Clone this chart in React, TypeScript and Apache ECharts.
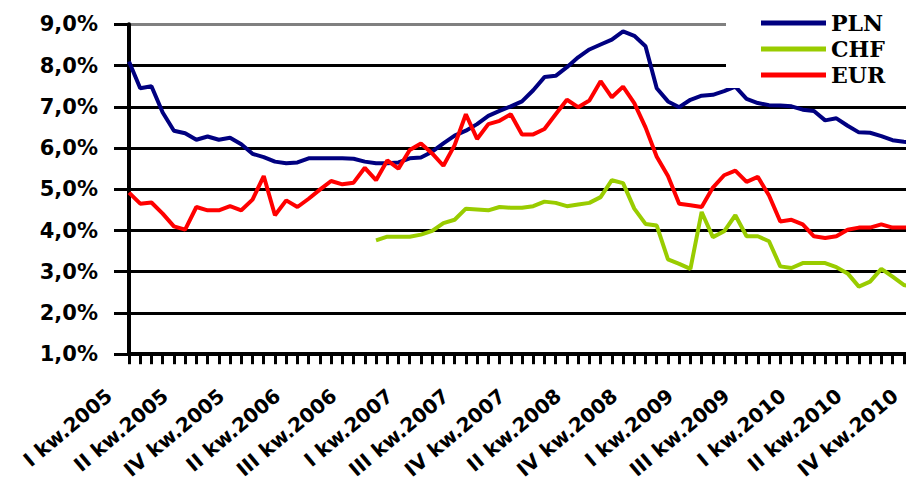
import React, { useEffect, useRef } from "react";
import * as echarts from "echarts";

// Monthly categories, Jan 2005 .. Nov 2010 (labels shown every 5th month)
const YEARS = [2005, 2006, 2007, 2008, 2009, 2010];
const QUARTERS = ["I", "II", "III", "IV"];
const MONTHS_SHOWN = 71;
const categories: string[] = [];
YEARS.forEach((y) => {
  for (let m = 0; m < 12; m++) {
    if (categories.length < MONTHS_SHOWN) categories.push(`${QUARTERS[Math.floor(m / 3)]} kw.${y}`);
  }
});

const pln = [
  8.1, 7.45, 7.5, 6.86, 6.42, 6.36, 6.2, 6.28, 6.2, 6.25,
  6.09, 5.86, 5.78, 5.67, 5.63, 5.65, 5.75, 5.75, 5.75, 5.75,
  5.74, 5.67, 5.63, 5.63, 5.65, 5.75, 5.77, 5.91, 6.11, 6.3,
  6.42, 6.58, 6.78, 6.9, 7.01, 7.13, 7.4, 7.72, 7.75, 7.96,
  8.2, 8.39, 8.51, 8.63, 8.83, 8.72, 8.47, 7.45, 7.13, 6.99,
  7.17, 7.27, 7.29, 7.38, 7.49, 7.19, 7.09, 7.04, 7.03, 7.01,
  6.93, 6.9, 6.67, 6.72, 6.54, 6.38, 6.37, 6.29, 6.19, 6.15,
  6.12,
];

const chf = [
  null, null, null, null, null, null, null, null, null, null,
  null, null, null, null, null, null, null, null, null, null,
  null, null, 3.76, 3.85, 3.85, 3.85, 3.9, 3.99, 4.18, 4.26,
  4.53, 4.51, 4.49, 4.57, 4.55, 4.55, 4.59, 4.7, 4.67, 4.59,
  4.63, 4.67, 4.81, 5.22, 5.15, 4.53, 4.16, 4.12, 3.3, 3.19,
  3.07, 4.45, 3.84, 3.98, 4.37, 3.86, 3.86, 3.74, 3.13, 3.09,
  3.21, 3.21, 3.21, 3.11, 2.96, 2.64, 2.76, 3.07, 2.88, 2.68,
  2.62,
];

const eur = [
  4.92, 4.65, 4.68, 4.41, 4.1, 4.02, 4.57, 4.49, 4.49, 4.59,
  4.49, 4.75, 5.32, 4.37, 4.73, 4.57, 4.77, 4.99, 5.2, 5.12,
  5.16, 5.52, 5.22, 5.7, 5.5, 5.95, 6.11, 5.87, 5.57, 6.07,
  6.82, 6.22, 6.58, 6.66, 6.82, 6.33, 6.33, 6.46, 6.82, 7.17,
  6.99, 7.15, 7.62, 7.23, 7.49, 7.09, 6.5, 5.79, 5.32, 4.65,
  4.61, 4.57, 5.04, 5.34, 5.45, 5.18, 5.3, 4.85, 4.22, 4.26,
  4.15, 3.86, 3.82, 3.86, 4.02, 4.07, 4.07, 4.15, 4.07, 4.07,
  4.07,
];

const Y_MIN = 1;
const Y_MAX = 9;
const Y_STEP = 1;

const SERIES_NAMES = ["PLN", "CHF", "EUR"];
const SERIES_COLORS = ["#000080", "#99CC00", "#FF0000"];

export default function App() {
  const ref = useRef<HTMLDivElement>(null);
  useEffect(() => {
    if (!ref.current) return;
    const chart = echarts.init(ref.current, null, { renderer: "svg" });
    const labelFont = "DejaVu Sans";
    const splitColors = ["#000", "#000", "#000", "#000", "#000", "#000", "#000", "#000", "#808080"];
    const datasets = [pln, chf, eur];
    chart.setOption({
      animation: false,
      backgroundColor: "#fff",
      grid: { left: 129, right: 5, top: 24.3, bottom: 119.3, containLabel: false },
      legend: {
        orient: "vertical",
        left: 726,
        top: 0,
        padding: [10, 30, 0, 35],
        backgroundColor: "#fff",
        itemGap: 0,
        itemWidth: 65,
        itemHeight: 5,
        icon: "rect",
        data: SERIES_NAMES,
        textStyle: {
          fontFamily: "DejaVu Serif",
          fontWeight: "bold",
          fontSize: 22,
          color: "#000",
          lineHeight: 26,
        },
      },
      xAxis: {
        type: "category",
        boundaryGap: false,
        data: categories,
        axisLine: { show: true, lineStyle: { color: "#000", width: 4 } },
        axisTick: { show: true, interval: 0, length: 10, lineStyle: { color: "#000", width: 3 } },
        axisLabel: {
          interval: 4,
          rotate: 40,
          margin: 22,
          padding: [0, 26, 0, 0],
          fontFamily: labelFont,
          fontWeight: "bold",
          fontSize: 20,
          color: "#000",
        },
        splitLine: { show: false },
      },
      yAxis: {
        type: "value",
        min: Y_MIN,
        max: Y_MAX,
        interval: Y_STEP,
        axisLine: { show: true, lineStyle: { color: "#000", width: 4 } },
        axisTick: { show: true, length: 15, lineStyle: { color: "#000", width: 3 } },
        axisLabel: {
          margin: 31,
          fontFamily: labelFont,
          fontWeight: "bold",
          fontSize: 21,
          color: "#000",
          formatter: (v: number) => v.toFixed(1).replace(".", ",") + "%",
        },
        splitLine: { show: true, lineStyle: { color: splitColors, width: 3 } },
      },
      series: SERIES_NAMES.map((name, i) => ({
        name,
        type: "line",
        data: datasets[i],
        showSymbol: false,
        symbol: "none",
        connectNulls: false,
        color: SERIES_COLORS[i],
        lineStyle: { color: SERIES_COLORS[i], width: 4 },
        z: 3,
      })),
    });
    return () => chart.dispose();
  }, []);
  return (
    <div
      style={{
        position: "fixed",
        left: 0,
        top: 0,
        width: 906,
        height: 482,
        overflow: "hidden",
        background: "#fff",
      }}
    >
      <div ref={ref} style={{ width: 920, height: 482 }} />
    </div>
  );
}
